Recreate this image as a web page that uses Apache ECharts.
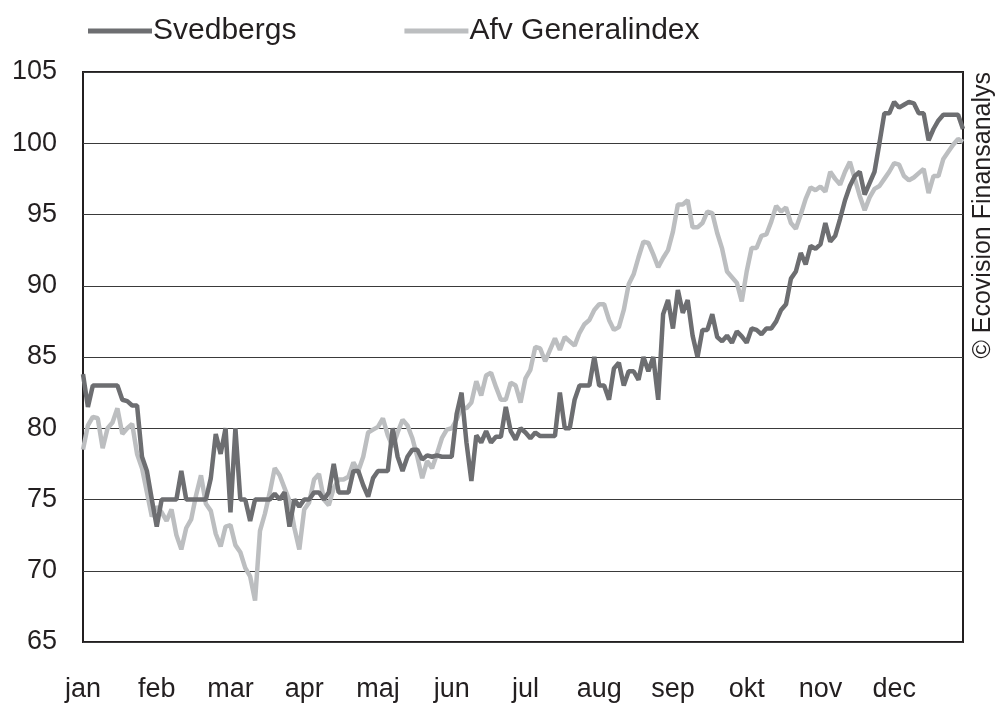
<!DOCTYPE html>
<html><head><meta charset="utf-8">
<script src="https://cdn.jsdelivr.net/npm/echarts@6/dist/echarts.min.js"></script>
<style>html,body{margin:0;padding:0;background:#fff}#c{width:999px;height:703px}</style>
</head><body><div id="c"></div>
<script>
const months = ['jan','feb','mar','apr','maj','jun','jul','aug','sep','okt','nov','dec'];
const pointsPerMonth = 15;
const yTicks = {min: 65, max: 105, step: 5};
const seriesNames = ['Svedbergs', 'Afv Generalindex'];

const svedbergs = [
83.8,81.5,83,83,83,83,83,83,82,81.9,81.6,81.6,78,77,75,
73.1,75,75,75,75,77,75,75,75,75,75,76.5,79.6,78.2,80,
74.1,80,75,75,73.5,75,75,75,75,75.4,75,75.5,73.1,75,74.5,
75,75,75.5,75.5,75,75.5,77.5,75.5,75.5,75.5,77,77,76,75.2,76.5,
77,77,77,80,78,77,78,78.5,78.5,77.8,78.1,78,78.1,78,78,
78,81,82.5,79,76.3,79.5,79,79.8,79,79.4,79.4,81.5,79.8,79.2,80,
79.7,79.3,79.7,79.45,79.45,79.45,79.45,82.5,80,80,82,83,83,83,85,
83,83,82,84.2,84.6,83,84,84,83.4,85,84,85,82,88,89,
87,89.7,88.1,89,86.5,85,86.9,86.9,88,86.4,86.1,86.5,86,86.8,86.45,
86,87,86.9,86.6,87,87,87.5,88.3,88.7,90.5,91,92.3,91.5,92.8,92.6,
92.9,94.4,93.1,93.5,94.7,96,97,97.7,98,96.4,97.2,98,100,102.1,102.1,
102.9,102.5,102.7,102.9,102.8,102.1,102.1,100.2,101,101.6,102,102,102,102,101
];

const generalindex = [
78.5,80.2,80.8,80.7,78.6,80,80.4,81.4,79.6,80,80.3,78.2,77.2,75.5,73.8,
74.5,74.1,73.5,74.3,72.5,71.5,73,73.6,75.3,76.7,74.7,74.2,72.6,71.7,73.1,
73.2,71.8,71.3,70.2,69.6,67.9,72.8,74,75.5,77.2,76.7,75.8,74.9,73,71.5,
74.3,74.8,76.4,76.8,75,74.6,75.8,76.4,76.4,76.6,77.6,77,78,79.7,79.9,
80.1,80.7,79.5,78.7,79.7,80.6,80.2,79.3,78,76.5,77.7,77.2,78.2,79.3,79.9,
80,80.6,81.5,81.4,81.8,83.3,82.3,83.7,83.9,82.9,82,82,83.2,83,81.8,
83.5,84.1,85.7,85.6,84.7,85.5,86.3,85.5,86.4,86.1,85.8,86.7,87.3,87.6,88.3,
88.7,88.7,87.6,86.9,87.1,88.3,90.1,90.8,92,93.1,93,92.2,91.3,91.95,92.5,
93.8,95.7,95.7,96,94.1,94.1,94.4,95.2,95.1,93.7,92.6,91,90.6,90.2,88.9,
91,92.65,92.65,93.5,93.6,94.5,95.6,95.2,95.5,94.4,94,95,96.1,96.9,96.7,
96.96,96.6,98,97.5,97.1,98,98.7,97.5,96.3,95.3,96.2,96.8,97,97.5,98,
98.6,98.5,97.7,97.4,97.6,97.9,98.2,96.5,97.7,97.7,98.9,99.4,99.9,100.3,100.1
];

const categories = [];
months.forEach(m => { for (let d = 1; d <= pointsPerMonth; d++) categories.push(m + ' ' + d); });

const ink = '#231f20';
const font = '"Liberation Sans", Arial, sans-serif';
const chart = echarts.init(document.getElementById('c'), null, {renderer: 'canvas'});
chart.setOption({
  animation: false,
  backgroundColor: '#fff',
  grid: {left: 83, right: 36, top: 72, bottom: 60, show: true, borderColor: ink, borderWidth: 2, backgroundColor: 'transparent'},
  legend: {
    top: 11, left: 83, itemWidth: 64, itemHeight: 5, itemGap: 108, icon: 'rect',
    textStyle: {fontFamily: font, fontSize: 30, color: ink, padding: [0,0,0,-4]},
    data: seriesNames
  },
  xAxis: {
    type: 'category', data: categories, boundaryGap: false,
    axisLine: {show: false}, axisTick: {show: false},
    axisLabel: {
      interval: (idx) => idx % pointsPerMonth === 0,
      formatter: (v) => v.split(' ')[0],
      fontFamily: font, fontSize: 27, color: ink, margin: 34
    },
    splitLine: {show: false}
  },
  yAxis: {
    type: 'value', min: yTicks.min, max: yTicks.max, interval: yTicks.step,
    axisLine: {show: false}, axisTick: {show: false},
    axisLabel: {fontFamily: font, fontSize: 27, color: ink, margin: 26},
    splitLine: {show: true, lineStyle: {color: '#3a3a3a', width: 1.2}}
  },
  graphic: [{
    type: 'text', left: 971, top: 72, rotation: Math.PI / 2,
    style: {text: '© Ecovision Finansanalys', font: '25px ' + font, fill: ink}
  }],
  series: [
    {name: seriesNames[0], type: 'line', data: svedbergs, showSymbol: false, symbol: 'none',
     lineStyle: {color: '#6d6e71', width: 4.5}, itemStyle: {color: '#6d6e71'}, z: 3},
    {name: seriesNames[1], type: 'line', data: generalindex, showSymbol: false, symbol: 'none',
     lineStyle: {color: '#bcbec0', width: 4.5}, itemStyle: {color: '#bcbec0'}, z: 2}
  ]
});
</script></body></html>
